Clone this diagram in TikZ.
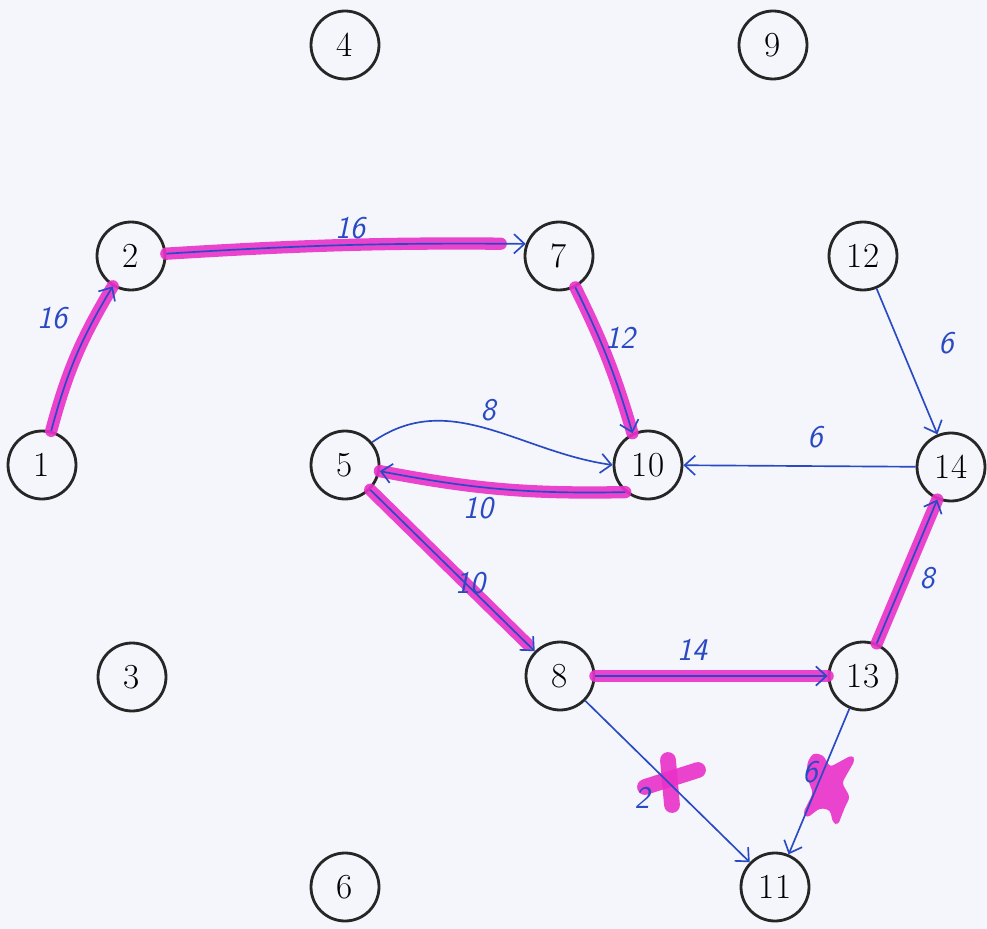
\documentclass[tikz,border=0pt]{standalone}
\usetikzlibrary{arrows.meta}
\definecolor{ink}{RGB}{42,74,196}
\definecolor{marker}{RGB}{234,48,200}
\definecolor{paper}{RGB}{244,246,251}
\begin{document}
\begin{tikzpicture}[x=0.02cm,y=-0.02cm,
  vertex/.style={circle,draw=black!85,line width=1.6pt,minimum size=1.36cm,inner sep=0pt,
    font=\fontsize{20}{23}\selectfont},
  arc/.style={draw=ink,line width=0.95pt,-{Straight Barb[length=6pt,width=11pt]}},
  hl/.style={draw=marker,line width=7pt,line cap=round,opacity=0.9},
  cross/.style={draw=marker,line width=9pt,line cap=round,opacity=0.9},
  wt/.style={text=ink,font=\sffamily\itshape\fontsize{18}{20}\selectfont}]

% paper and frame
\fill[paper] (0,0) rectangle (987,929);
\useasboundingbox (0,0) rectangle (987,929);

% vertices
\node[vertex] (n1)  at (42,465)  {1};
\node[vertex] (n2)  at (131,256) {2};
\node[vertex] (n3)  at (132,677) {3};
\node[vertex] (n4)  at (345,45)  {4};
\node[vertex] (n5)  at (345,465) {5};
\node[vertex] (n6)  at (345,887) {6};
\node[vertex] (n7)  at (559,256) {7};
\node[vertex] (n8)  at (560,676) {8};
\node[vertex] (n9)  at (773,45)  {9};
\node[vertex] (n10) at (648,465) {10};
\node[vertex] (n11) at (775,887) {11};
\node[vertex] (n12) at (863,256) {12};
\node[vertex] (n13) at (863,676) {13};
\node[vertex] (n14) at (951,467) {14};

% highlighted path (drawn beneath the arcs)
\draw[hl] (n1) to[bend left=8] (n2);
\draw[hl,shorten >=0.5cm] (n2) to[bend left=2] (n7.160);
\draw[hl] (n7) to[bend left=5] (n10.116);
\draw[hl] (n10.-130) to[bend left=6] (n5.-10);
\draw[hl,shorten >=0.2cm] (n5) -- (n8);
\draw[hl] (n8) -- (n13);
\draw[hl] (n13) -- (n14);

% crossed-out arcs
\draw[cross] (668,760) -- (672,805);
\draw[cross] (645,787) -- (698,770);
\fill[marker,opacity=0.9,rounded corners=2pt]
  (813,753) -- (823,755) -- (830,767) -- (852,755) -- (855,760) -- (842,783)
  -- (850,797) -- (845,807) -- (838,825) -- (833,823) -- (830,810) -- (820,808)
  -- (807,818) -- (803,813) -- (813,793) -- (808,780) -- (807,763) -- cycle;

% arcs
\draw[arc] (n1) to[bend left=8] (n2);
\draw[arc] (n2) to[bend left=2] (n7.160);
\draw[arc] (n7) to[bend left=5] (n10.116);
\draw[arc] (n5.40) to[out=35,in=172] (n10.west);
\draw[arc] (n10.-130) to[bend left=6] (n5.-10);
\draw[arc] (n5) -- (n8);
\draw[arc] (n8) -- (n13);
\draw[arc] (n8) -- (n11);
\draw[arc] (n13) -- (n11);
\draw[arc] (n12) -- (n14);
\draw[arc] (n14) -- (n10);
\draw[arc] (n13) -- (n14);

% weights
\node[wt] (w12)   at (52,318)  {16};
\node[wt] (w27)   at (350,228) {16};
\node[wt] (w710)  at (620,338) {12};
\node[wt] (w510)  at (488,410) {8};
\node[wt] (w105)  at (478,508) {10};
\node[wt] (w58)   at (470,583) {10};
\node[wt] (w813)  at (692,650) {14};
\node[wt] (w1214) at (946,343) {6};
\node[wt] (w1410) at (815,437) {6};
\node[wt] (w1314) at (927,578) {8};
\node[wt] (w811)  at (642,798) {2};
\node[wt] (w1311) at (810,772) {6};
\end{tikzpicture}
\end{document}
